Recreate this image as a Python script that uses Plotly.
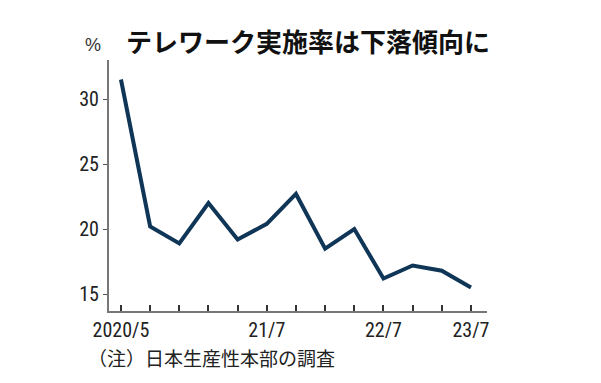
import plotly.graph_objects as go

periods = ["2020/5", "2020/7", "2020/10", "2021/1", "2021/4", "2021/7", "2021/10",
           "2022/1", "2022/4", "2022/7", "2022/10", "2023/1", "2023/7"]
rates = [31.5, 20.2, 18.9, 22.0, 19.2, 20.4, 22.7, 18.5, 20.0, 16.2, 17.2, 16.8, 15.5]
tick_labels = ["2020/5", "", "", "", "", "21/7", "", "", "", "22/7", "", "", "23/7"]
y_ticks = [15, 20, 25, 30]

x_idx = list(range(len(periods)))
tick_font = dict(family="Liberation Sans Narrow, Roboto Condensed, Arial Narrow, sans-serif", size=20, color="#222")

fig = go.Figure()
fig.add_trace(go.Scatter(x=x_idx, y=rates, mode="lines",
                         line=dict(color="#0f3557", width=4),
                         hovertext=periods, showlegend=False))

fig.update_layout(
    width=601, height=383,
    margin=dict(l=109, r=114, t=60, b=72),
    paper_bgcolor="white", plot_bgcolor="white",
    xaxis=dict(range=[-0.41, 12.55], tickvals=x_idx, ticktext=tick_labels,
               ticks="inside", ticklen=6, tickcolor="#333", tickwidth=1.5,
               showline=True, linecolor="#777", linewidth=2, showgrid=False,
               zeroline=False, tickfont=tick_font, fixedrange=True),
    yaxis=dict(range=[13.7, 33.0], tickvals=y_ticks, ticks="outside", ticklen=4,
               tickcolor="#555", showline=True, linecolor="#777", linewidth=2,
               showgrid=False, zeroline=False, tickfont=tick_font, fixedrange=True),
    annotations=[
        dict(text="<b>テレワーク実施率は下落傾向に</b>", x=124, y=383-40, xref="paper", yref="paper",
             showarrow=False, xanchor="left", yanchor="middle",
             font=dict(family="Noto Sans CJK JP", size=26, color="#111")),
        dict(text="%", x=93, y=383-45, xref="paper", yref="paper",
             showarrow=False, xanchor="center", yanchor="middle",
             font=dict(family="Liberation Sans Narrow, sans-serif", size=18, color="#333")),
        dict(text="（注）日本生産性本部の調査", x=86, y=383-357, xref="paper", yref="paper",
             showarrow=False, xanchor="left", yanchor="middle",
             font=dict(family="Noto Sans CJK JP", size=19, color="#222")),
    ],
)

# convert pixel-based annotation positions into paper coords
pw = 601 - 109 - 114
ph = 383 - 60 - 72
for a in fig.layout.annotations:
    a.x = (a.x - 109) / pw
    a.y = (a.y - 72) / ph

fig.write_html("out.html")
